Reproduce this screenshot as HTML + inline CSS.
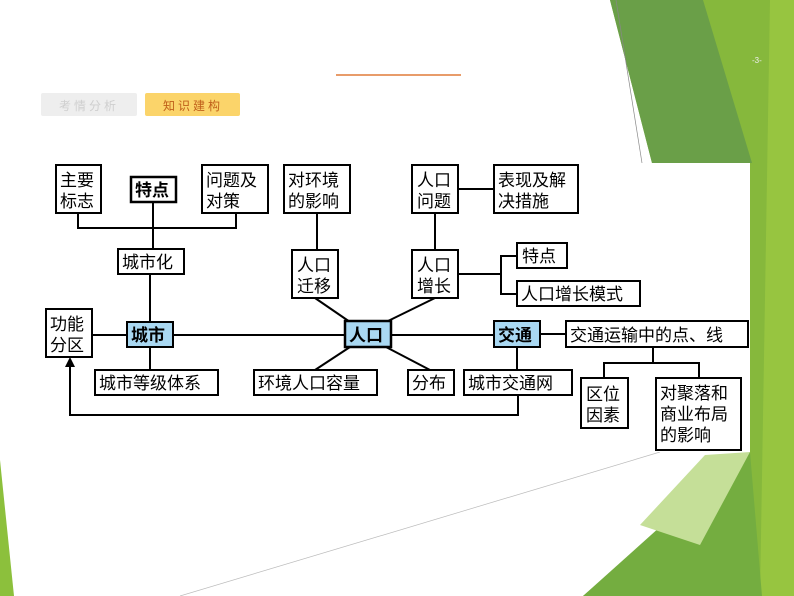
<!DOCTYPE html>
<html><head><meta charset="utf-8"><style>
html,body{margin:0;padding:0;background:#fff;}
svg{display:block;}
text{font-family:"Liberation Sans","Noto Sans CJK SC",sans-serif;font-size:17px;fill:#000;}
</style></head><body>
<svg width="794" height="596" viewBox="0 0 794 596" xmlns="http://www.w3.org/2000/svg">
<rect width="794" height="596" fill="#fff"/>
<!-- background green -->
<polygon points="610,0 794,0 794,596 583,596 750,452 750,163 652,163" fill="#86b83c"/>
<polygon points="610,0 703,0 752,163 652,163" fill="#6a9f48"/>
<polygon points="770,0 794,0 794,596 760,596" fill="#97c540"/>
<polygon points="583,596 690,500 750,452 762,596" fill="#74ad40"/>
<polygon points="640,525 705,455 750,452 700,545" fill="#c5df98"/>
<line x1="616" y1="0" x2="642" y2="163" stroke="#888" stroke-width="0.7"/>
<line x1="180" y1="596" x2="660" y2="452" stroke="#bbb" stroke-width="0.7"/>
<polygon points="0,460 14,596 0,596" fill="#8cc03c"/>
<text x="752" y="63" style="font-size:8px;fill:#eee">-3-</text>
<!-- header -->
<line x1="336" y1="75" x2="461" y2="75" stroke="#e07b39" stroke-width="1.5"/>
<rect x="41" y="93" width="96" height="23" rx="2" fill="#eeeeee"/>
<text x="89" y="110" text-anchor="middle" style="font-size:12px;fill:#cfcfcf;letter-spacing:3px">考情分析</text>
<rect x="145" y="93" width="95" height="23" rx="2" fill="#fbd46a"/>
<text x="193" y="110" text-anchor="middle" style="font-size:12px;fill:#c0601a;letter-spacing:3px">知识建构</text>
<!-- panel -->
<rect x="38" y="163" width="712" height="289" fill="#fff"/>
<g stroke="#000" stroke-width="2" fill="none">
<polyline points="78,213 78,228 236,228 236,213"/>
<line x1="153" y1="202" x2="153" y2="249"/>
<line x1="150" y1="274" x2="150" y2="322"/>
<line x1="92" y1="335" x2="127" y2="335"/>
<line x1="150" y1="347" x2="150" y2="370"/>
<line x1="173" y1="335" x2="345" y2="335"/>
<line x1="391" y1="335" x2="494" y2="335"/>
<line x1="317" y1="213" x2="317" y2="250"/>
<line x1="315" y1="298" x2="350" y2="322"/>
<line x1="386" y1="322" x2="435" y2="298"/>
<line x1="350" y1="347" x2="315" y2="370"/>
<line x1="386" y1="347" x2="430" y2="370"/>
<line x1="458" y1="189" x2="494" y2="189"/>
<line x1="435" y1="213" x2="435" y2="250"/>
<polyline points="458,274 501,274"/>
<polyline points="517,256 501,256 501,294 517,294"/>
<line x1="540" y1="334" x2="566" y2="334"/>
<line x1="517" y1="347" x2="517" y2="370"/>
<polyline points="518,395 518,415 70,415 70,364"/>
<polyline points="653,347 653,363"/>
<polyline points="604,378 604,363 699,363 699,378"/>
</g>
<polygon points="70,357 65,367 75,367" fill="#000"/>
<g stroke="#000" stroke-width="2" fill="#fff">
<rect x="56" y="165" width="45" height="48"/>
<rect x="131" y="177" width="45" height="25" stroke-width="2.5"/>
<rect x="202" y="165" width="66" height="48"/>
<rect x="118" y="249" width="66" height="25"/>
<rect x="284" y="165" width="66" height="48"/>
<rect x="292" y="250" width="46" height="48"/>
<rect x="412" y="165" width="46" height="48"/>
<rect x="494" y="165" width="84" height="48"/>
<rect x="412" y="250" width="46" height="48"/>
<rect x="517" y="243" width="50" height="25"/>
<rect x="517" y="281" width="123" height="25"/>
<rect x="46" y="309" width="46" height="48"/>
<rect x="127" y="322" width="46" height="25" fill="#a9d8f2"/>
<rect x="345" y="321" width="46" height="26" fill="#a9d8f2" stroke-width="2.5"/>
<rect x="494" y="321" width="46" height="26" fill="#a9d8f2"/>
<rect x="566" y="321" width="182" height="26"/>
<rect x="95" y="370" width="123" height="25"/>
<rect x="254" y="370" width="123" height="25"/>
<rect x="408" y="370" width="46" height="25"/>
<rect x="464" y="370" width="108" height="25"/>
<rect x="581" y="378" width="47" height="50"/>
<rect x="656" y="378" width="85" height="72"/>
</g>
<g>
<text x="60" y="186">主要</text><text x="60" y="207">标志</text>
<text x="135" y="196" style="font-weight:bold">特点</text>
<text x="206" y="186">问题及</text><text x="206" y="207">对策</text>
<text x="122" y="268">城市化</text>
<text x="288" y="186">对环境</text><text x="288" y="207">的影响</text>
<text x="297" y="271">人口</text><text x="297" y="292">迁移</text>
<text x="417" y="186">人口</text><text x="417" y="207">问题</text>
<text x="498" y="186">表现及解</text><text x="498" y="207">决措施</text>
<text x="417" y="271">人口</text><text x="417" y="292">增长</text>
<text x="522" y="262">特点</text>
<text x="521" y="300">人口增长模式</text>
<text x="50" y="330">功能</text><text x="50" y="351">分区</text>
<text x="131" y="341" style="font-weight:bold">城市</text>
<text x="349" y="341" style="font-weight:bold">人口</text>
<text x="498" y="341" style="font-weight:bold">交通</text>
<text x="570" y="341">交通运输中的点、线</text>
<text x="99" y="389">城市等级体系</text>
<text x="258" y="389">环境人口容量</text>
<text x="412" y="389">分布</text>
<text x="468" y="389">城市交通网</text>
<text x="586" y="400">区位</text><text x="586" y="421">因素</text>
<text x="660" y="399">对聚落和</text><text x="660" y="420">商业布局</text><text x="660" y="441">的影响</text>
</g>
</svg>
</body></html>
